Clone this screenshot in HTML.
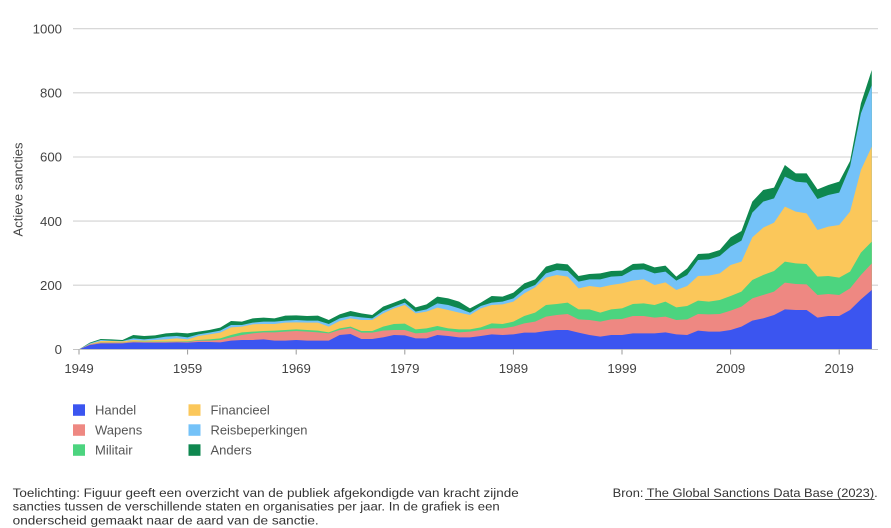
<!DOCTYPE html>
<html>
<head>
<meta charset="utf-8">
<style>
html,body{margin:0;padding:0;background:#fff;}
body{width:891px;height:528px;overflow:hidden;}
svg{display:block;font-family:"Liberation Sans",sans-serif;}
</style>
</head>
<body>
<svg width="891" height="528" viewBox="0 0 891 528" xmlns="http://www.w3.org/2000/svg">
  <!-- gridlines -->
  <g stroke="#d2d2d2" stroke-width="1.1">
    <line x1="73" y1="28.7" x2="878" y2="28.7"/>
    <line x1="73" y1="92.8" x2="878" y2="92.8"/>
    <line x1="73" y1="157" x2="878" y2="157"/>
    <line x1="73" y1="221.1" x2="878" y2="221.1"/>
    <line x1="73" y1="285.2" x2="878" y2="285.2"/>
  </g>
  <!-- y labels -->
  <g font-size="13.2" fill="#444" text-anchor="end">
    <text x="62" y="33.4">1000</text>
    <text x="62" y="97.5">800</text>
    <text x="62" y="161.7">600</text>
    <text x="62" y="225.8">400</text>
    <text x="62" y="289.9">200</text>
    <text x="62" y="354">0</text>
  </g>
  <text transform="translate(22.5,189.5) rotate(-90)" font-size="13" fill="#444" text-anchor="middle">Actieve sancties</text>

  <!-- stacked areas -->
  <g transform="translate(79,0) scale(10.86,0.333333)">
    <polygon fill="#0e874f" points="0,1048 1,1028 2,1017 3,1018 4,1020 5,1005 6,1008 7,1006 8,1000 9,998 10,1000 11,995 12,990 13,983 14,963 15,965 16,955 17,953 18,955 19,947 20,946 21,948 22,947 23,960 24,943 25,933 26,940 27,945 28,920 29,908 30,895 31,922 32,913 33,890 34,895 35,905 36,925 37,908 38,888 39,890 40,878 41,850 42,838 43,800 44,790 45,793 46,828 47,822 48,820 49,813 50,812 51,792 52,790 53,802 54,797 55,830 56,805 57,762 58,760 59,750 60,712 61,693 62,605 63,570 64,563 65,495 66,520 67,520 68,568 69,555 70,545 71,483 72,310 73,210 73,1048"/>
    <polygon fill="#74c2f8" points="0,1048 1,1030 2,1020 3,1022 4,1023 5,1015 6,1018 7,1015 8,1010 9,1008 10,1012 11,1003 12,998 13,992 14,975 15,975 16,968 17,965 18,965 19,962 20,960 21,962 22,962 23,972 24,955 25,948 26,952 27,955 28,933 29,920 30,908 31,935 32,928 33,910 34,915 35,925 36,938 37,918 38,908 39,905 40,895 41,868 42,855 43,820 44,810 45,813 46,845 47,838 48,838 49,830 50,828 51,810 52,808 53,820 54,815 55,842 56,825 57,780 58,778 59,768 60,740 61,722 62,638 63,605 64,595 65,530 66,545 67,548 68,597 69,585 70,578 71,500 72,340 73,255 73,1048"/>
    <polygon fill="#fbc75a" points="0,1048 1,1032 2,1023 3,1023 4,1024 5,1020 6,1022 7,1020 8,1018 9,1015 10,1018 11,1008 12,1003 13,998 14,982 15,980 16,973 17,972 18,972 19,968 20,967 21,968 22,968 23,980 24,963 25,955 26,960 27,960 28,940 29,925 30,915 31,940 32,935 33,923 34,930 35,938 36,945 37,925 38,915 39,913 40,905 41,880 42,862 43,833 44,825 45,830 46,865 47,858 48,862 49,855 50,850 51,842 52,838 53,855 54,847 55,870 56,858 57,828 58,827 59,820 60,795 61,785 62,712 63,683 64,668 65,620 66,635 67,640 68,690 69,680 70,675 71,635 72,510 73,440 73,1048"/>
    <polygon fill="#4cd47f" points="0,1048 1,1033 2,1027 3,1027 4,1027 5,1024 6,1025 7,1025 8,1025 9,1024 10,1024 11,1020 12,1018 13,1015 14,1005 15,997 16,995 17,993 18,992 19,990 20,988 21,990 22,992 23,997 24,985 25,980 26,993 27,993 28,980 29,972 30,971 31,988 32,985 33,978 34,985 35,988 36,988 37,982 38,970 39,972 40,965 41,948 42,938 43,915 44,912 45,908 46,928 47,928 48,938 49,928 50,925 51,912 52,910 53,915 54,905 55,922 56,918 57,902 58,905 59,900 60,888 61,875 62,840 63,825 64,813 65,785 66,790 67,792 68,830 69,828 70,833 71,815 72,758 73,725 73,1048"/>
    <polygon fill="#ee8882" points="0,1048 1,1033 2,1028 3,1028 4,1028 5,1025 6,1026 7,1026 8,1026 9,1025 10,1026 11,1022 12,1022 13,1020 14,1012 15,1005 16,1000 17,997 18,997 19,995 20,993 21,995 22,997 23,1000 24,990 25,984 26,998 27,998 28,992 29,990 30,990 31,1000 32,998 33,990 34,993 35,997 36,995 37,990 38,985 39,985 40,980 41,970 42,965 43,950 44,945 45,942 46,958 47,960 48,965 49,958 50,957 51,948 52,948 53,953 54,950 55,960 56,958 57,942 58,943 59,942 60,932 61,920 62,895 63,885 64,875 65,848 66,852 67,853 68,885 69,882 70,885 71,865 72,825 73,790 73,1048"/>
    <polygon fill="#3b55f0" points="0,1048 1,1035 2,1030 3,1030 4,1030 5,1027 6,1028 7,1028 8,1028 9,1027 10,1028 11,1026 12,1026 13,1027 14,1022 15,1020 16,1020 17,1018 18,1022 19,1022 20,1020 21,1022 22,1022 23,1022 24,1005 25,1002 26,1017 27,1017 28,1012 29,1005 30,1006 31,1015 32,1015 33,1005 34,1008 35,1012 36,1012 37,1008 38,1003 39,1005 40,1003 41,998 42,998 43,993 44,990 45,990 46,998 47,1005 48,1010 49,1005 50,1005 51,1000 52,1000 53,1000 54,997 55,1003 56,1005 57,992 58,995 59,995 60,990 61,980 62,962 63,955 64,945 65,928 66,930 67,930 68,953 69,948 70,948 71,930 72,898 73,870 73,1048"/>
  </g>

  <!-- baseline and ticks -->
  <line x1="73" y1="349.5" x2="878" y2="349.5" stroke="#c4c4c4" stroke-width="1.1"/>
  <g stroke="#999" stroke-width="1">
    <line x1="79" y1="349.5" x2="79" y2="354.5"/>
    <line x1="187.6" y1="349.5" x2="187.6" y2="354.5"/>
    <line x1="296.2" y1="349.5" x2="296.2" y2="354.5"/>
    <line x1="404.8" y1="349.5" x2="404.8" y2="354.5"/>
    <line x1="513.4" y1="349.5" x2="513.4" y2="354.5"/>
    <line x1="622" y1="349.5" x2="622" y2="354.5"/>
    <line x1="730.6" y1="349.5" x2="730.6" y2="354.5"/>
    <line x1="839.2" y1="349.5" x2="839.2" y2="354.5"/>
  </g>
  <g font-size="13.2" fill="#444" text-anchor="middle">
    <text x="79" y="373">1949</text>
    <text x="187.6" y="373">1959</text>
    <text x="296.2" y="373">1969</text>
    <text x="404.8" y="373">1979</text>
    <text x="513.4" y="373">1989</text>
    <text x="622" y="373">1999</text>
    <text x="730.6" y="373">2009</text>
    <text x="839.2" y="373">2019</text>
  </g>

  <!-- legend -->
  <rect x="73" y="404.3" width="12" height="11.5" fill="#3b55f0"/>
  <rect x="73" y="424.3" width="12" height="11.5" fill="#ee8882"/>
  <rect x="73" y="444.3" width="12" height="11.5" fill="#4cd47f"/>
  <rect x="188.5" y="404.3" width="12" height="11.5" fill="#fbc75a"/>
  <rect x="188.5" y="424.3" width="12" height="11.5" fill="#74c2f8"/>
  <rect x="188.5" y="444.3" width="12" height="11.5" fill="#0e874f"/>
  <g font-size="13" fill="#555">
    <text x="95" y="414.5">Handel</text>
    <text x="95" y="434.5">Wapens</text>
    <text x="95" y="454.5">Militair</text>
    <text x="210.5" y="414.5">Financieel</text>
    <text x="210.5" y="434.5" textLength="97" lengthAdjust="spacingAndGlyphs">Reisbeperkingen</text>
    <text x="210.5" y="454.5">Anders</text>
  </g>

  <!-- footnote -->
  <g font-size="12.3" fill="#333">
    <text x="12.7" y="497" textLength="506" lengthAdjust="spacingAndGlyphs">Toelichting: Figuur geeft een overzicht van de publiek afgekondigde van kracht zijnde</text>
    <text x="12.7" y="510.7" textLength="487" lengthAdjust="spacingAndGlyphs">sancties tussen de verschillende staten en organisaties per jaar. In de grafiek is een</text>
    <text x="12.7" y="524.3" textLength="306" lengthAdjust="spacingAndGlyphs">onderscheid gemaakt naar de aard van de sanctie.</text>
    <text x="612.7" y="497" textLength="265" lengthAdjust="spacingAndGlyphs">Bron: The Global Sanctions Data Base (2023).</text>
  </g>
  <line x1="645" y1="499.5" x2="874.5" y2="499.5" stroke="#555" stroke-width="0.9"/>
</svg>
</body>
</html>
